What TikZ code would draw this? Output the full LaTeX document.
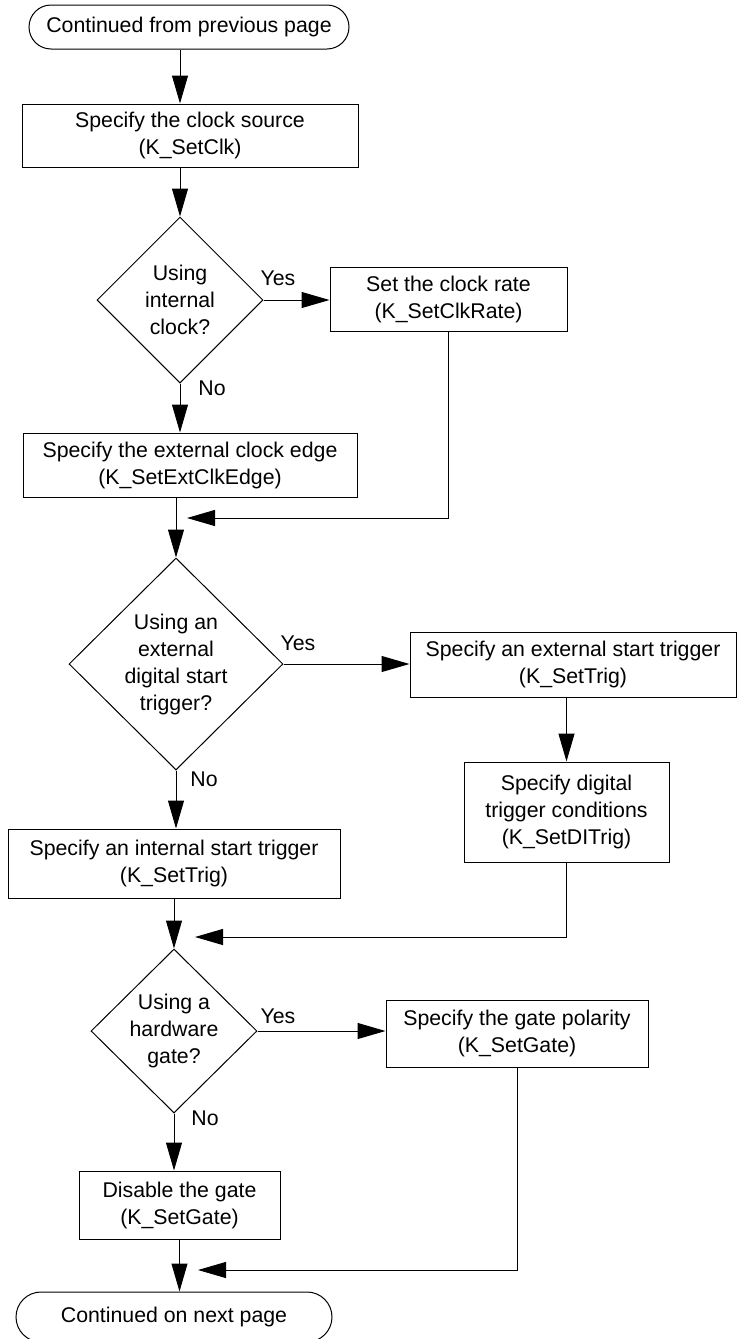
\documentclass[tikz,border=0pt]{standalone}
\usepackage{fontspec}
\setmainfont{Liberation Sans}
\usetikzlibrary{arrows.meta,shapes.geometric,shapes.misc}

\begin{document}
\begin{tikzpicture}[x=1pt,y=-1pt,
  every node/.style={font=\fontsize{21.3}{27}\selectfont, text=black},
  flowline/.style={draw=black, line width=1pt},
  arr/.style={flowline, -{Triangle[length=28pt,width=16pt]}},
  procbox/.style={draw=black, line width=1pt, rectangle, align=center, inner sep=0pt},
  decide/.style={draw=black, line width=1pt, diamond, align=center, inner sep=0pt},
  term/.style={draw=black, line width=1pt, rounded rectangle, align=center, inner sep=0pt},
  lbl/.style={inner sep=0pt}
]
\useasboundingbox (0,0) rectangle (738,1339);
\clip (0,0) rectangle (738,1339);

% terminals
\node[term, minimum width=320pt, minimum height=44pt] (T1) at (189,27) {Continued from previous page};
\node[term, minimum width=316pt, minimum height=50pt] (T2) at (174,1317) {Continued on next page};

% clock section
\node[procbox, minimum width=336pt, minimum height=63pt] (B1) at (190,135.5) {Specify the clock source\\(K\_SetClk)};
\node[decide, minimum width=166pt, minimum height=166pt] (D1) at (180,300) {Using\\internal\\clock?};
\node[procbox, minimum width=237pt, minimum height=64pt] (B2) at (448.5,299) {Set the clock rate\\(K\_SetClkRate)};
\node[procbox, minimum width=334pt, minimum height=64pt] (B3) at (190,465) {Specify the external clock edge\\(K\_SetExtClkEdge)};

% trigger section
\node[decide, minimum width=214pt, minimum height=212pt] (D2) at (176,664) {Using an\\external\\digital start\\trigger?};
\node[procbox, minimum width=326pt, minimum height=65pt] (B5) at (573,664.5) {Specify an external start trigger\\(K\_SetTrig)};
\node[procbox, minimum width=205pt, minimum height=100pt] (B6) at (566.5,812) {Specify digital\\trigger conditions\\(K\_SetDITrig)};
\node[procbox, minimum width=332pt, minimum height=69pt] (B4) at (174,863.5) {Specify an internal start trigger\\(K\_SetTrig)};

% gate section
\node[decide, minimum width=166pt, minimum height=164pt] (D3) at (174,1031) {Using a\\hardware\\gate?};
\node[procbox, minimum width=262pt, minimum height=67pt] (B7) at (517,1033.5) {Specify the gate polarity\\(K\_SetGate)};
\node[procbox, minimum width=201pt, minimum height=68pt] (B8) at (179.5,1205) {Disable the gate\\(K\_SetGate)};

% branch labels
\node[lbl] (Y1) at (278,278) {Yes};
\node[lbl] (N1) at (212,388) {No};
\node[lbl] (Y2) at (298,643) {Yes};
\node[lbl] (N2) at (204,779) {No};
\node[lbl] (Y3) at (278,1016) {Yes};
\node[lbl] (N3) at (205,1118) {No};

% merge points
\coordinate (m1) at (187,518);
\coordinate (m2) at (195,937);
\coordinate (m3) at (198,1270);

% connectors
\draw[arr] (T1.south -| D1.north) -- (B1.north -| D1.north);
\draw[arr] (B1.south -| D1.north) -- (D1.north);
\draw[arr] (D1.east) -- (D1.east -| B2.west);
\draw[arr] (D1.south) -- (D1.south |- B3.north);
\draw[arr] (B3.south -| D2.north) -- (D2.north);
\draw[arr] (B2.south) -- (B2.south |- m1) -- (m1);

\draw[arr] (D2.east) -- (D2.east -| B5.west);
\draw[arr] (B5.south -| B6.north) -- (B6.north);
\draw[arr] (D2.south) -- (D2.south |- B4.north);
\draw[arr] (B4.south -| D3.north) -- (D3.north);
\draw[arr] (B6.south) -- (B6.south |- m2) -- (m2);

\draw[arr] (D3.east) -- (D3.east -| B7.west);
\draw[arr] (D3.south) -- (D3.south |- B8.north);
\draw[arr] (B8.south) -- (B8.south |- T2.north);
\draw[arr] (B7.south) -- (B7.south |- m3) -- (m3);
\end{tikzpicture}
\end{document}
